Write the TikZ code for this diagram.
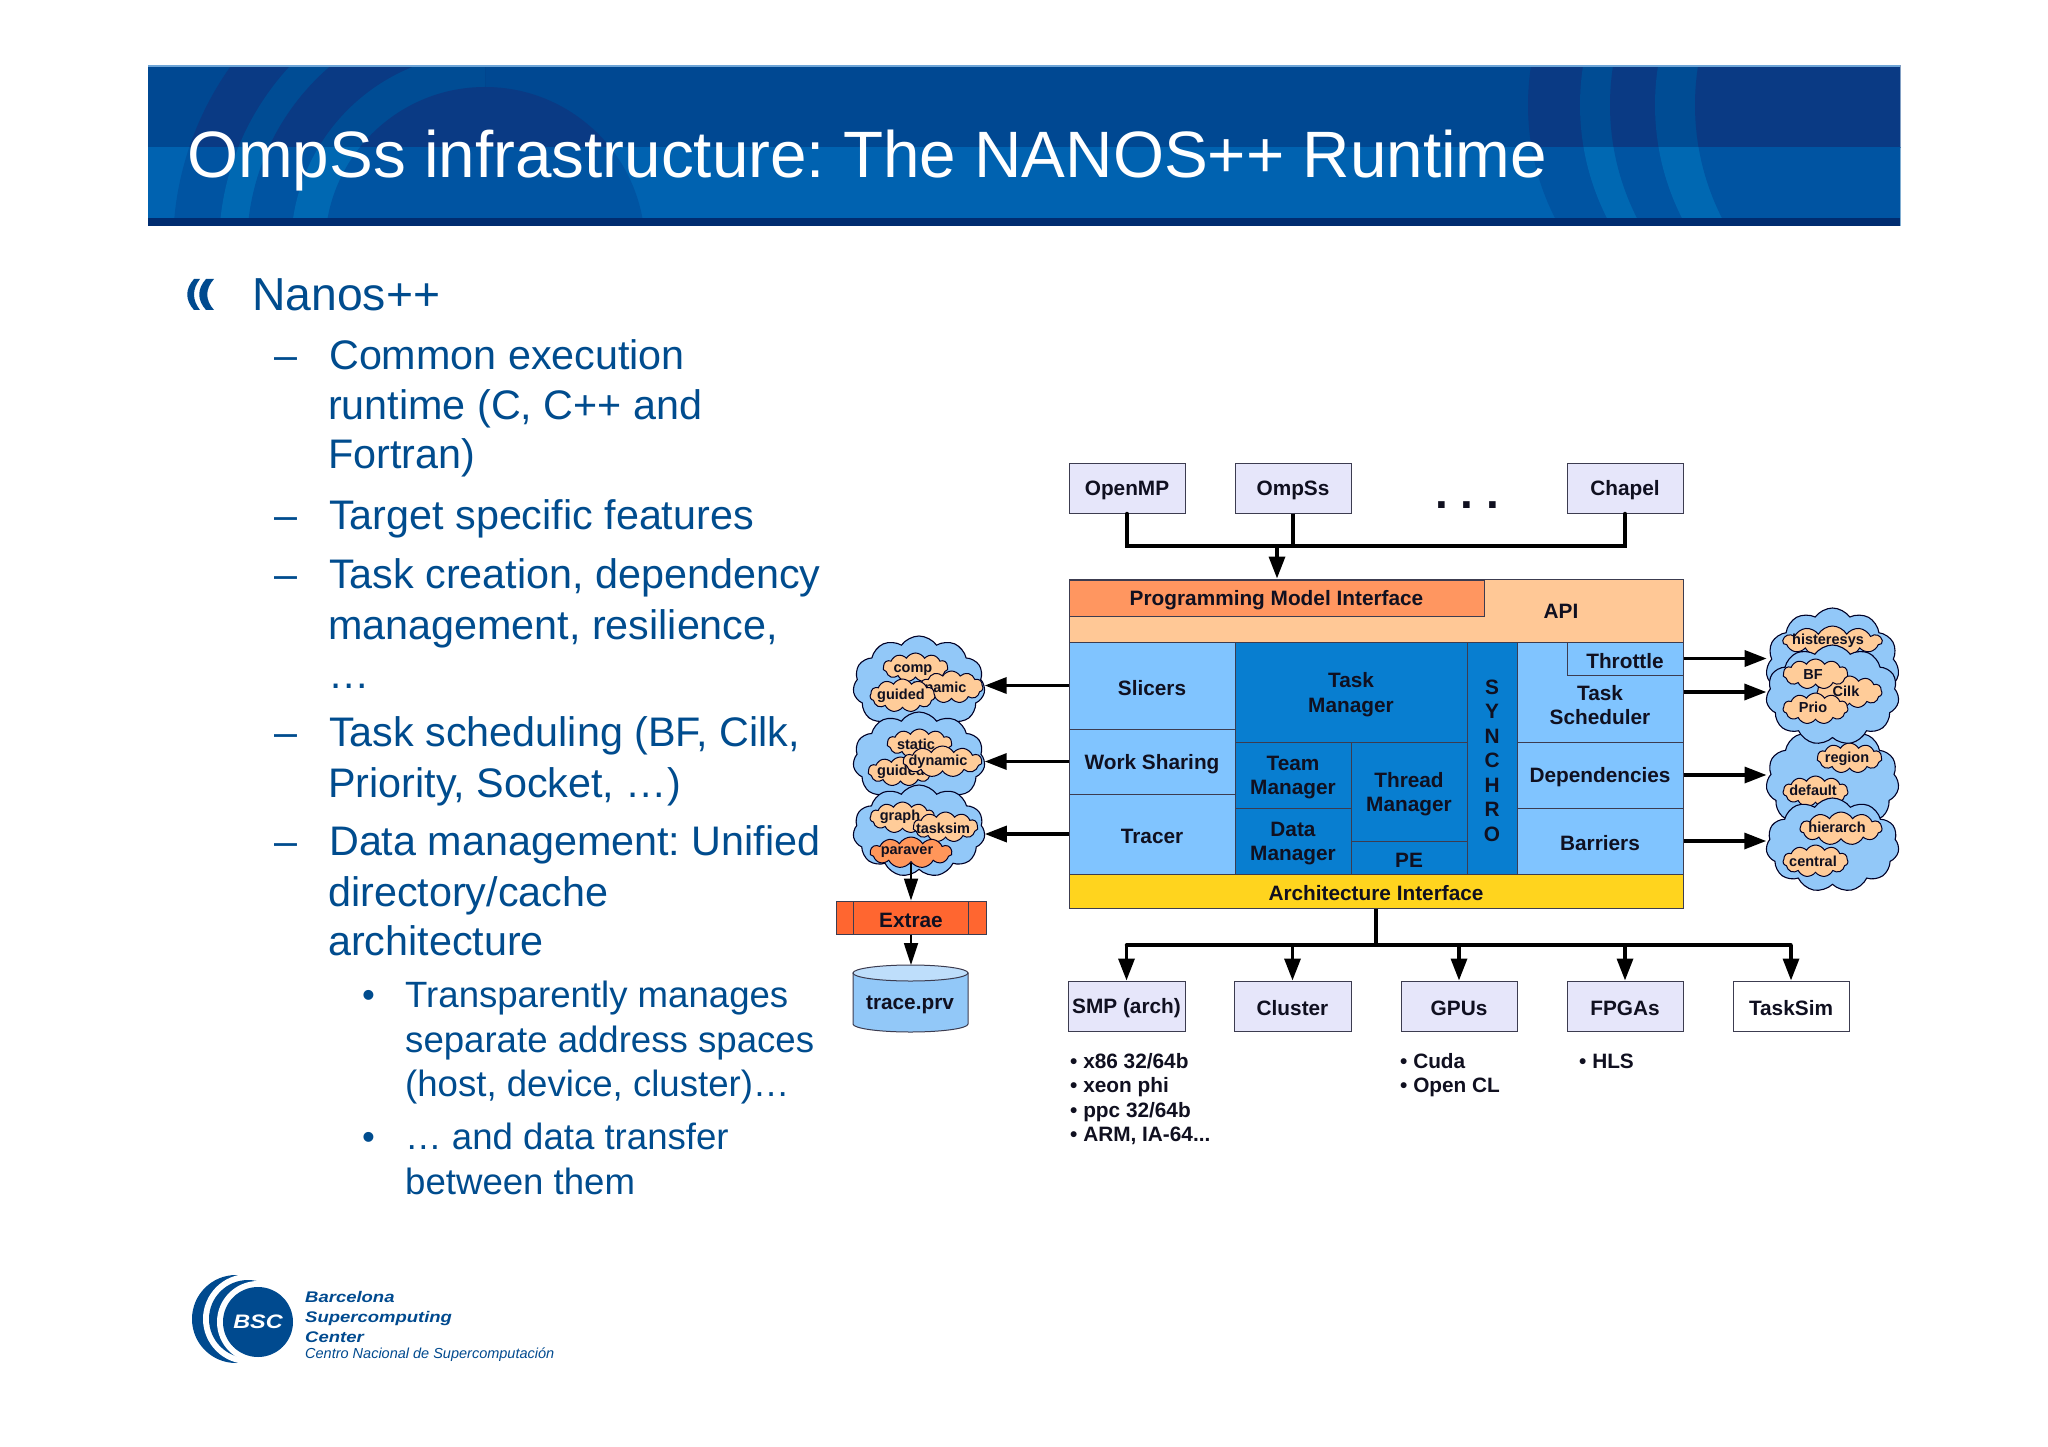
\documentclass[tikz,border=0pt]{standalone}
\usepackage{fontspec}
\setmainfont{Liberation Sans}
\newfontfamily\logofont[FakeStretch=1.2]{Liberation Sans}
\usetikzlibrary{arrows.meta,shapes.symbols,calc}
\frenchspacing
\definecolor{bodyblue}{RGB}{0,76,142}
\definecolor{inkc}{RGB}{16,16,32}
\definecolor{edgec}{RGB}{60,60,80}
\definecolor{lightb}{RGB}{128,196,255}
\definecolor{darkb}{RGB}{8,126,208}
\definecolor{lav}{RGB}{230,230,250}
\definecolor{apic}{RGB}{255,200,150}
\definecolor{pmic}{RGB}{255,150,96}
\definecolor{archc}{RGB}{255,212,30}
\definecolor{extc}{RGB}{255,102,48}
\definecolor{cloudc}{RGB}{146,200,248}
\definecolor{puffc}{RGB}{255,204,153}
\definecolor{puffd}{RGB}{255,150,90}
\definecolor{logoc}{RGB}{0,74,143}
\definecolor{topbase}{RGB}{0,72,146}
\definecolor{toplight}{RGB}{0,76,148}
\definecolor{topdark}{RGB}{10,58,132}
\definecolor{botbase}{RGB}{0,98,176}
\definecolor{botlight}{RGB}{0,104,178}
\definecolor{botdark}{RGB}{0,84,162}
\definecolor{stripc}{RGB}{0,44,112}
\definecolor{topedge}{RGB}{110,165,215}
\tikzset{
  blk/.style={draw=edgec,line width=1pt,inner sep=0pt},
  lightblk/.style={blk,fill=lightb},
  darkblk/.style={blk,fill=darkb},
  lavblk/.style={blk,fill=lav},
  whiteblk/.style={blk,fill=white},
  apiblk/.style={blk,fill=apic},
  pmiblk/.style={blk,fill=pmic},
  archblk/.style={blk,fill=archc},
  extblk/.style={blk,fill=extc},
  lbl/.style={inner sep=0pt,text=inkc,align=center,font=\fontsize{20.8}{24.5}\selectfont\bfseries},
  listline/.style={anchor=base west,inner sep=0pt,text=inkc,font=\fontsize{20.8}{24}\selectfont\bfseries},
  bigcloud/.style={cloud,cloud puffs=11,cloud puff arc=110,cloud ignores aspect,draw=black!85!blue,line width=1.1pt,fill=cloudc,inner sep=0pt},
  puff/.style={cloud,cloud puffs=11,cloud puff arc=120,cloud ignores aspect,draw=black!85!blue,line width=1pt,fill=puffc,inner sep=0pt},
  puffdark/.style={puff,fill=puffd},
  pufftext/.style={inner sep=0pt,text=inkc,font=\fontsize{14.5}{16}\selectfont\bfseries},
  bigline/.style={line width=3.4pt,draw=black},
  bigarrow/.style={bigline,-{Triangle[length=22pt,width=16pt]}},
  thinarrow/.style={line width=1.8pt,draw=black,-{Triangle[length=22pt,width=14pt]}},
  t1/.style={anchor=base west,inner sep=0pt,text=bodyblue,font=\fontsize{46.3}{50}\selectfont},
  t2/.style={anchor=base west,inner sep=0pt,text=bodyblue,font=\fontsize{41.3}{48}\selectfont},
  t3/.style={anchor=base west,inner sep=0pt,text=bodyblue,font=\fontsize{36.6}{42}\selectfont},
  logobig/.style={anchor=base west,inner sep=0pt,text=logoc,font=\logofont\fontsize{15.4}{18}\selectfont\bfseries\itshape},
}
\newcommand{\rbox}[7]{%
  \pgfmathsetmacro{\rw}{#5-#3}\pgfmathsetmacro{\rh}{#6-#4}%
  \pgfmathsetmacro{\rcx}{(#5+#3)/2}\pgfmathsetmacro{\rcy}{(#6+#4)/2}%
  \node[#1,minimum width=\rw pt,minimum height=\rh pt] (#2) at (\rcx,\rcy) {#7};}
\newcommand{\lbox}[7]{\rbox{#1}{#2}{#3}{#4}{#5}{#6}{}\node[lbl,yshift=-2.5pt] (#2t) at (#2) {#7};}
\newcommand{\bcloud}[5]{\rbox{bigcloud}{#1}{#2}{#3}{#4}{#5}{}}
\newcommand{\puffn}[9]{\rbox{#1}{#2}{#3}{#4}{#5}{#6}{}\node[pufftext,yshift=-2.5pt] (#2t) at (#7,#8) {#9};}
\newcommand{\bandcircles}[3]{%
  \fill[#1] (148,66) rectangle (1900,226);
  \begin{scope}
    \clip (148,66) rectangle (485,226);
    \fill[#3] (485,247) circle[radius=312pt];
    \fill[#2] (485,247) circle[radius=266pt];
    \fill[#3] (485,247) circle[radius=238pt];
    \fill[#2] (485,247) circle[radius=194pt];
  \end{scope}
  \fill[#3] (485,247) circle[radius=160pt];
  \fill[#3] (1778,105) circle[radius=250pt];
  \fill[#2] (1830,105) circle[radius=250pt];
  \fill[#3] (1860,105) circle[radius=250pt];
  \fill[#2] (1905,105) circle[radius=250pt];
  \fill[#3] (1945,105) circle[radius=250pt];
}
\begin{document}
\begin{tikzpicture}[x=1pt,y=-1pt]
\useasboundingbox (0,0) rectangle (2048,1447);
\fill[white] (0,0) rectangle (2048,1447);
% ---- header band
\begin{scope}
  \clip (148,66) rectangle (1900,148);
  \bandcircles{topbase}{toplight}{topdark}
\end{scope}
\begin{scope}
  \clip (148,148) rectangle (1900,226);
  \bandcircles{botbase}{botlight}{botdark}
\end{scope}
\fill[stripc] (148,218) rectangle (1900,226);
\fill[topedge] (148,65.5) rectangle (1900,67);
\node[anchor=base west,inner sep=0pt,text=white,font=\fontsize{65.6}{70}\selectfont] (title) at (187,178) {OmpSs infrastructure: The NANOS++ Runtime};
% ---- body text
\fill[logoc] (194,279) .. controls (185,289) and (185,300) .. (194,310) -- (200,310) .. controls (192,300) and (192,289) .. (200,279) -- cycle;
\fill[logoc] (206,279) .. controls (197,289) and (197,300) .. (206,310) -- (214,310) .. controls (205,300) and (205,289) .. (214,279) -- cycle;
\node[t1] (a0) at (252,311) {Nanos++};
\node[t2] (d1) at (274,369) {–};
\node[t2] (a1) at (329,369) {Common execution};
\node[t2] (a2) at (328,419) {runtime (C, C++ and};
\node[t2] (a3) at (328,468) {Fortran)};
\node[t2] (d2) at (274,529) {–};
\node[t2] (a4) at (329,529) {Target specific features};
\node[t2] (d3) at (274,588) {–};
\node[t2] (a5) at (329,588) {Task creation, dependency};
\node[t2] (a6) at (328,639) {management, resilience,};
\node[t2] (a7) at (328,688) {…};
\node[t2] (d4) at (274,746) {–};
\node[t2] (a8) at (329,746) {Task scheduling (BF, Cilk,};
\node[t2] (a9) at (328,797) {Priority, Socket, …)};
\node[t2] (d5) at (274,855) {–};
\node[t2] (a10) at (329,855) {Data management: Unified};
\node[t2] (a11) at (328,906) {directory/cache};
\node[t2] (a12) at (328,955) {architecture};
\node[t3] (b1) at (362,1007) {•};
\node[t3] (c1t) at (405,1007) {Transparently manages};
\node[t3] (c2t) at (405,1052) {separate address spaces};
\node[t3] (c3t) at (405,1096) {(host, device, cluster)…};
\node[t3] (b2) at (362,1149) {•};
\node[t3] (c4t) at (405,1149) {… and data transfer};
\node[t3] (c5t) at (405,1194) {between them};
% ---- logo
\fill[logoc] (236,1319) circle[radius=44pt];
\fill[white] (248,1319) circle[radius=45pt];
\fill[logoc] (248,1319) circle[radius=39pt];
\fill[white] (258,1322) circle[radius=41pt];
\fill[logoc] (258,1322) circle[radius=35pt];
\node[inner sep=0pt,text=white,font=\logofont\fontsize{19.5}{24}\selectfont\bfseries\itshape] (bsc) at (258,1322) {BSC};
\node[logobig] (lg1) at (305,1302) {Barcelona};
\node[logobig] (lg2) at (305,1322) {Supercomputing};
\node[logobig] (lg3) at (305,1342) {Center};
\node[anchor=base west,inner sep=0pt,text=logoc,font=\fontsize{14.5}{18}\selectfont\itshape] (lg4) at (305,1358) {Centro Nacional de Supercomputación};
% ---- top boxes
\lbox{lavblk}{openmp}{1069}{463}{1185}{513}{OpenMP}
\lbox{lavblk}{ompss}{1235}{463}{1351}{513}{OmpSs}
\lbox{lavblk}{chapel}{1567}{463}{1683}{513}{Chapel}
\node[anchor=base,inner sep=0pt,text=inkc,font=\fontsize{46}{46}\selectfont\bfseries] (dots) at (1467,508) {. . .};
% ---- main stack
\rbox{apiblk}{api}{1069}{579}{1683}{642}{}
\node[lbl] (apit) at (1561,611) {API};
\lbox{pmiblk}{pmi}{1069}{580}{1484}{616}{Programming Model Interface}
\lbox{lightblk}{slicers}{1069}{642}{1235}{729}{Slicers}
\lbox{lightblk}{wsharing}{1069}{729}{1235}{794}{Work Sharing}
\lbox{lightblk}{tracer}{1069}{794}{1235}{874}{Tracer}
\lbox{darkblk}{taskm}{1235}{642}{1467}{742}{Task\\Manager}
\lbox{darkblk}{teamm}{1235}{742}{1351}{808}{Team\\Manager}
\lbox{darkblk}{datam}{1235}{808}{1351}{874}{Data\\Manager}
\lbox{darkblk}{threadm}{1351}{742}{1467}{841}{Thread\\Manager}
\lbox{darkblk}{pe}{1351}{841}{1467}{874}{PE}
\lbox{darkblk}{synchro}{1467}{642}{1517}{874}{S\\Y\\N\\C\\H\\R\\O}
\rbox{lightblk}{tasksch}{1517}{642}{1683}{742}{}
\node[lbl] (taskscht) at (1600,705) {Task\\Scheduler};
\lbox{lightblk}{throttle}{1567}{642}{1683}{675}{Throttle}
\lbox{lightblk}{deps}{1517}{742}{1683}{808}{Dependencies}
\lbox{lightblk}{barriers}{1517}{808}{1683}{874}{Barriers}
\lbox{archblk}{arch}{1069}{874}{1683}{908}{Architecture Interface}
% ---- connectors top
\coordinate (busj) at (1277,546);
\draw[bigline,line cap=round] (openmp.south) |- (busj);
\draw[bigline,line cap=round] (chapel.south) |- (busj);
\draw[bigline] (ompss.south) -- (ompss.south |- busj);
\draw[bigarrow] (busj) -- (busj |- api.north);
% ---- bottom boxes
\lbox{lavblk}{smp}{1068}{981}{1185}{1031}{SMP (arch)}
\lbox{lavblk}{cluster}{1234}{981}{1351}{1031}{Cluster}
\lbox{lavblk}{gpus}{1401}{981}{1517}{1031}{GPUs}
\lbox{lavblk}{fpgas}{1567}{981}{1683}{1031}{FPGAs}
\lbox{whiteblk}{tasksim}{1733}{981}{1849}{1031}{TaskSim}
\coordinate (busb) at (1376,945);
\draw[bigline] (arch.south) -- (busb);
\draw[bigline,line cap=round] (smp.north |- busb) -- (tasksim.north |- busb);
\foreach \bx in {smp,cluster,gpus,fpgas,tasksim}
  \draw[bigarrow] (\bx.north |- busb) -- (\bx.north);
% ---- lists
\node[listline] (l1) at (1070,1068) {• x86 32/64b};
\node[listline] (l2) at (1070,1092) {• xeon phi};
\node[listline] (l3) at (1070,1117) {• ppc 32/64b};
\node[listline] (l4) at (1070,1141) {• ARM, IA-64...};
\node[listline] (l5) at (1400,1068) {• Cuda};
\node[listline] (l6) at (1400,1092) {• Open CL};
\node[listline] (l7) at (1579,1068) {• HLS};
% ---- left clouds
\bcloud{lc1}{853}{636}{985}{735}
\puffn{puff}{comp}{883}{653}{948}{682}{913}{668}{comp}
\puffn{puff}{dyna}{920}{671}{983}{703}{937}{686}{dynamic}
\puffn{puff}{guided}{870}{679}{935}{712}{901}{693}{guided}
\bcloud{lc2}{853}{712}{985}{808}
\puffn{puff}{static}{887}{729}{952}{758}{916}{742}{static}
\puffn{puff}{guidb}{868}{757}{933}{786}{901}{769}{guided}
\puffn{puff}{dynb}{903}{746}{982}{777}{938}{759}{dynamic}
\bcloud{lc3}{853}{785}{985}{877}
\rbox{puff}{graph}{870}{802}{935}{833}{}
\puffn{puff}{tsim}{913}{812}{978}{842}{943}{826}{tasksim}
\node[pufftext] (grapht) at (900,817) {graph};
\puffn{puffdark}{paraver}{870}{837}{952}{868}{907}{850}{paraver}
% ---- right clouds
\bcloud{rc1}{1766}{608}{1899}{725}
\puffn{puff}{hist}{1783}{626}{1882}{657}{1828}{638}{histeresys}
\bcloud{rc3}{1766}{727}{1899}{835}
\puffn{puff}{region}{1817}{743}{1882}{773}{1847}{756}{region}
\puffn{puff}{default}{1783}{776}{1848}{807}{1813}{788}{default}
\bcloud{rc2}{1766}{645}{1899}{745}
\puffn{puff}{cilk}{1817}{676}{1882}{708}{1846}{689}{Cilk}
\puffn{puff}{bf}{1783}{659}{1848}{689}{1813}{672}{BF}
\puffn{puff}{prio}{1783}{693}{1848}{724}{1813}{705}{Prio}
\bcloud{rc4}{1766}{798}{1899}{892}
\puffn{puff}{hier}{1800}{812}{1882}{845}{1837}{825}{hierarch}
\puffn{puff}{central}{1783}{845}{1848}{877}{1813}{859}{central}
% ---- side arrows
\draw[bigarrow] (slicers.west) -- (slicers.west -| lc1.east);
\draw[bigarrow] (wsharing.west) -- (wsharing.west -| lc2.east);
\draw[bigarrow] (tracer.west) -- (tracer.west -| lc3.east);
\draw[bigarrow] (throttle.east) -- (throttle.east -| rc1.west);
\draw[bigarrow] (tasksch.east) -- (tasksch.east -| rc2.west);
\draw[bigarrow] (deps.east) -- (deps.east -| rc3.west);
\draw[bigarrow] (barriers.east) -- (barriers.east -| rc4.west);
% ---- extrae and trace
\lbox{extblk}{extrae}{836}{901}{986}{934}{Extrae}
\draw[edgec,line width=1pt] (853,901) -- (853,934);
\draw[edgec,line width=1pt] (968,901) -- (968,934);
\draw[thinarrow] (paraver.south -| extrae.north) -- (extrae.north);
\coordinate (cyltop) at (911,965);
\draw[thinarrow] (extrae.south) -- (cyltop);
\draw[draw=edgec,line width=1pt,fill=cloudc] (853,973) -- (853,1024) arc[start angle=180,end angle=360,x radius=57.5pt,y radius=8pt] -- (968,973) -- cycle;
\draw[draw=edgec,line width=1pt,fill=cloudc!60!white] (910.5,973) ellipse[x radius=57.5pt,y radius=8pt];
\node[lbl] (trace) at (910,1004.5) {trace.prv};
\end{tikzpicture}
\end{document}
